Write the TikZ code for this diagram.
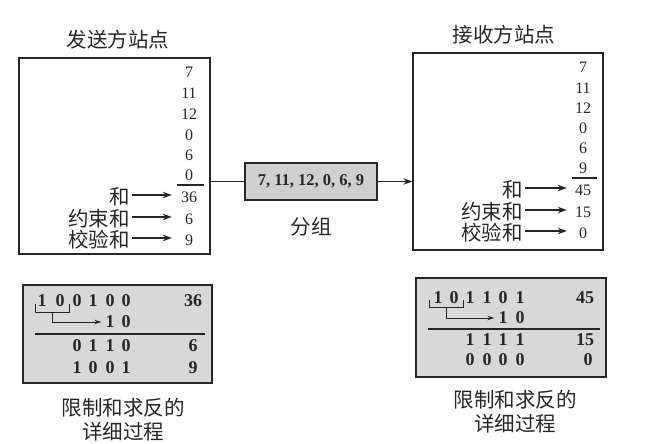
\documentclass[tikz,border=0pt]{standalone}
\usepackage{fontspec}
\setmainfont{Liberation Serif}
\newfontfamily\zh{Noto Sans CJK SC}
\usetikzlibrary{arrows.meta}
\definecolor{ink}{HTML}{262626}
\definecolor{panel}{HTML}{d8d8d8}
\definecolor{pkt}{HTML}{cfcfcf}
\tikzset{
  x=1pt, y=-1pt,
  station/.style={draw=ink, line width=1.2pt, inner sep=0pt},
  calcbox/.style={draw=ink, fill=panel, line width=1.2pt, inner sep=0pt},
  packet/.style={draw=ink, fill=pkt, line width=2.4pt, inner sep=0pt,
    font=\fontsize{16.5}{16.5}\selectfont\bfseries, text=ink},
  num/.style={font=\fontsize{16}{16}\selectfont, text=ink, inner sep=0pt,
    minimum width=22pt, align=center},
  bit/.style={font=\fontsize{18}{18}\selectfont\bfseries, text=ink, inner sep=0pt},
  zhtxt/.style={font=\zh\fontsize{20.5}{20.5}\selectfont, text=ink, inner sep=0pt},
  ptr/.style={-{Stealth[length=9pt,width=6.5pt]}, line width=1.2pt, draw=ink},
  thinptr/.style={-{Stealth[length=7pt,width=4.5pt]}, line width=0.9pt, draw=ink},
  rule/.style={draw=ink, line width=1.1pt},
}
\begin{document}
\begin{tikzpicture}
\useasboundingbox (0,0) rectangle (645,444);

% ---------- sending station ----------
\node[zhtxt] (sendtitle) at (118,40) {发送方站点};
\node[station, minimum width=191pt, minimum height=196pt] (send) at (114.5,156) {};
\foreach \v/\y [count=\i] in {7/72, 11/93, 12/114, 0/135, 6/155, 0/175}
  \node[num] (sv\i) at (189,\y) {\v};
\draw[rule] (177,185) -- (204,185);
\node[num] (ssum) at (189,197) {36};
\node[num] (swrap) at (189,219) {6};
\node[num] (scheck) at (189,240) {9};
\node[zhtxt, anchor=east] (lsum) at (130,197) {和};
\node[zhtxt, anchor=east] (lwrap) at (130,219) {约束和};
\node[zhtxt, anchor=east] (lcheck) at (130,240) {校验和};
\foreach \a/\b in {lsum/ssum, lwrap/swrap, lcheck/scheck}
  \draw[ptr, shorten >=6pt] ([shift={(2pt,2pt)}]\a.east) -- ([yshift=2pt]\a.east -| \b.west);

% ---------- receiving station ----------
\node[zhtxt] (recvtitle) at (504,35) {接收方站点};
\node[station, minimum width=190pt, minimum height=197pt] (recv) at (508,151.5) {};
\foreach \v/\y [count=\i] in {7/67, 11/88, 12/108, 0/128, 6/148, 9/168}
  \node[num] (rv\i) at (583,\y) {\v};
\draw[rule] (572,178) -- (597,178);
\node[num] (rsum) at (583,190) {45};
\node[num] (rwrap) at (583,212) {15};
\node[num] (rcheck) at (583,233) {0};
\node[zhtxt, anchor=east] (msum) at (523,190) {和};
\node[zhtxt, anchor=east] (mwrap) at (523,212) {约束和};
\node[zhtxt, anchor=east] (mcheck) at (523,233) {校验和};
\foreach \a/\b in {msum/rsum, mwrap/rwrap, mcheck/rcheck}
  \draw[ptr, shorten >=5pt] ([shift={(2pt,2pt)}]\a.east) -- ([yshift=2pt]\a.east -| \b.west);

% ---------- packet in transit ----------
\node[packet, minimum width=132pt, minimum height=37pt] (pk) at (311,181.5) {7, 11, 12, 0, 6, 9};
\node[zhtxt] (pklabel) at (311,227) {分组};
\draw[line width=1.2pt, draw=ink] (send.east |- pk.west) -- (pk.west);
\draw[ptr] (pk.east) -- (pk.east -| recv.west);

% ---------- sender: wrapped sum and complement ----------
\node[calcbox, minimum width=189pt, minimum height=98pt] (scalc) at (117.5,334) {};
\foreach \d/\x [count=\i] in {1/42, 0/60, 0/77, 1/93, 0/110, 0/126}
  \node[bit] (sa\i) at (\x,301) {\d};
\node[bit] (sadec) at (193,301) {36};
\coordinate (sbl) at (35,304);
\coordinate (sbr) at (69,304);
\draw[line width=0.9pt, draw=ink] (sbl) -- (35,312) -- (69,312) -- (sbr);
\coordinate (sbm) at (52,312);
\foreach \d/\x [count=\i] in {1/110, 0/126}
  \node[bit] (sc\i) at (\x,322) {\d};
\draw[thinptr] (sbm) |- ([xshift=-4pt]sc1.west);
\draw[rule] (35,334) -- (205,334);
\foreach \d/\x [count=\i] in {0/77, 1/93, 1/110, 0/126}
  \node[bit] (sw\i) at (\x,346) {\d};
\node[bit] (swdec) at (193,346) {6};
\foreach \d/\x [count=\i] in {1/77, 0/93, 0/110, 1/126}
  \node[bit] (sk\i) at (\x,368) {\d};
\node[bit] (skdec) at (193,368) {9};
\node[zhtxt] (scap1) at (123,408) {限制和求反的};
\node[zhtxt] (scap2) at (123,432) {详细过程};

% ---------- receiver: wrapped sum and complement ----------
\node[calcbox, minimum width=190pt, minimum height=99pt] (rcalc) at (511,327.5) {};
\foreach \d/\x [count=\i] in {1/438, 0/454, 1/470, 1/487, 0/503, 1/520}
  \node[bit] (ra\i) at (\x,298) {\d};
\node[bit] (radec) at (585,298) {45};
\coordinate (rbl) at (429,300);
\coordinate (rbr) at (463,300);
\draw[line width=0.9pt, draw=ink] (rbl) -- (429,307) -- (463,307) -- (rbr);
\coordinate (rbm) at (446,307);
\foreach \d/\x [count=\i] in {1/503, 0/520}
  \node[bit] (rc\i) at (\x,318) {\d};
\draw[thinptr] (rbm) |- ([xshift=-4pt]rc1.west);
\draw[rule] (428,329) -- (600,329);
\foreach \d/\x [count=\i] in {1/470, 1/487, 1/503, 1/520}
  \node[bit] (rw\i) at (\x,340) {\d};
\node[bit] (rwdec) at (585,340) {15};
\foreach \d/\x [count=\i] in {0/470, 0/487, 0/503, 0/520}
  \node[bit] (rk\i) at (\x,360) {\d};
\node[bit] (rkdec) at (588,360) {0};
\node[zhtxt] (rcap1) at (515,400) {限制和求反的};
\node[zhtxt] (rcap2) at (515,424) {详细过程};
\end{tikzpicture}
\end{document}
